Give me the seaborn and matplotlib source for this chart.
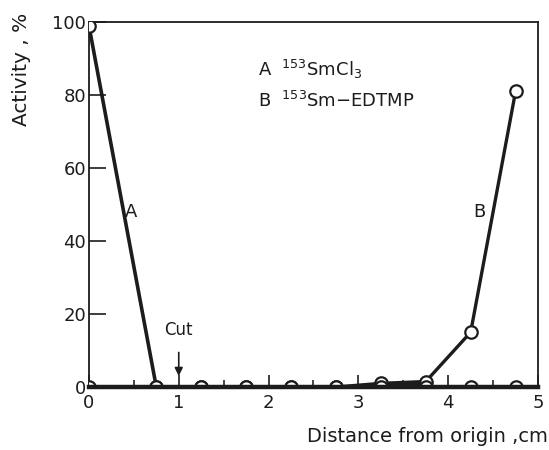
import numpy as np
import pandas as pd
import matplotlib.pyplot as plt
import seaborn as sns

# distance from origin (cm) and activity (%)
distance = [0, 0.75, 1.25, 1.75, 2.25, 2.75, 3.25, 3.75, 4.25, 4.75]
activity_a = [99, 0, 0, 0, 0, 0, 0, 0, 0, 0]      # 153SmCl3
activity_b = [0, 0, 0, 0, 0, 0, 1, 1.5, 15, 81]   # 153Sm-EDTMP

x_ticks = [0, 1, 2, 3, 4, 5]
y_ticks = [0, 20, 40, 60, 80, 100]

ink = "#1c1c1c"

sns.set_style("white")
plt.rcParams['font.family'] = ['DejaVu Sans']

fig = plt.figure(figsize=(5.49, 4.5), dpi=100)
ax = fig.add_axes([0.162, 0.140, 0.818, 0.811])

df = pd.DataFrame({"distance": distance, "A": activity_a, "B": activity_b})

# dark smear under the low, flat part of curve B
low = df.iloc[:8]
ax.fill_between(low["distance"], 0, low["B"], color=ink, lw=0)
sns.lineplot(data=df, x="distance", y="B", ax=ax, color=ink, lw=2.4)
sns.lineplot(data=df, x="distance", y="A", ax=ax, color=ink, lw=2.6)
for col in ["B", "A"]:
    sns.scatterplot(data=df, x="distance", y=col, ax=ax, s=80, marker="o",
                    facecolor="white", edgecolor=ink, linewidth=1.6,
                    zorder=3, clip_on=True)

ax.set_xlim(0, 5)
ax.set_ylim(0, 100)
ax.set_xticks(x_ticks)
ax.set_xticks(np.arange(0.5, 5, 1.0), minor=True)
ax.set_yticks(y_ticks)
ax.set_xticklabels([str(t) for t in x_ticks])
ax.set_yticklabels([str(t) for t in y_ticks])
ax.tick_params(axis="x", which="major", direction="in", length=9, width=1.2,
               labelsize=13, colors=ink, pad=5, bottom=True)
ax.tick_params(axis="x", which="minor", direction="in", length=5, width=1.2,
               bottom=True)
ax.tick_params(axis="y", direction="in", length=12, width=1.2,
               labelsize=13, colors=ink, pad=2, left=True)
ax.set_xlabel("")
ax.set_ylabel("")
for s in ax.spines.values():
    s.set_color(ink)
    s.set_linewidth(1.3)
ax.spines["bottom"].set_linewidth(3.2)
ax.spines["bottom"].set_zorder(4)

# curve labels and legend text
ax.text(0.47, 48, "A", fontsize=13, color=ink, ha="center", va="center")
ax.text(4.35, 48, "B", fontsize=13, color=ink, ha="center", va="center")
ax.text(1.88, 87, r"A  $^{153}$SmCl$_3$", fontsize=13, color=ink, va="center")
ax.text(1.88, 78.5, r"B  $^{153}$Sm$-$EDTMP", fontsize=13, color=ink, va="center")

# cut marker
ax.annotate("Cut", xy=(1, 3), xytext=(1, 15.5), fontsize=12, color=ink,
            ha="center", va="center",
            arrowprops=dict(arrowstyle="-|>", color=ink, lw=1.2,
                            shrinkA=7, shrinkB=0, mutation_scale=12))

fig.text(0.04, 0.845, "Activity , %", rotation=90, fontsize=14.5, color=ink,
         ha="center", va="center")
fig.text(0.998, 0.03, "Distance from origin ,cm", fontsize=14, color=ink,
         ha="right", va="center")

plt.savefig("out.png", dpi=100)
